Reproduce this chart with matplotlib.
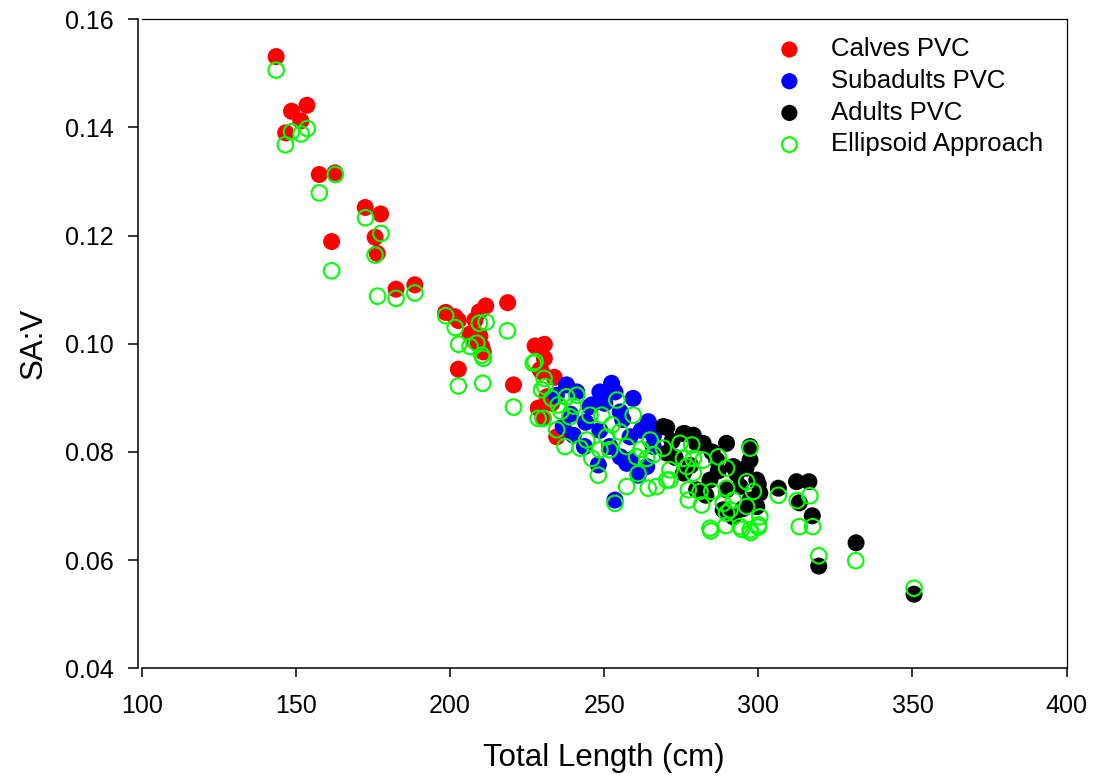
"""
SA:V vs total length - PVC measurements by age class and the ellipsoid approach
"""

import matplotlib
matplotlib.use("Agg")
import matplotlib.pyplot as plt

# -----------------------------
# DATA
# -----------------------------

calves_len = [143.6, 146.7, 148.6, 151.6, 153.6, 157.6, 161.6, 162.7, 172.5, 175.7,
              176.4, 177.5, 182.5, 188.6, 198.6, 201.6, 202.7, 202.7, 206.5, 208.1,
              208.1, 209.5, 209.7, 210.3, 210.8, 211.6, 218.7, 220.6, 227.6, 228.6,
              229.2, 229.7, 230.6, 230.6, 231.4, 233.5, 233.8, 234.6, 230.2, 233.0]
calves_sav = [0.1531, 0.1390, 0.1430, 0.1412, 0.1441, 0.1313, 0.1189, 0.1316, 0.1252, 0.1197,
              0.1167, 0.1240, 0.1101, 0.1109, 0.1058, 0.1050, 0.1043, 0.0953, 0.1018, 0.1044,
              0.1004, 0.1059, 0.1014, 0.0995, 0.0985, 0.1070, 0.1076, 0.0924, 0.0996, 0.0881,
              0.0952, 0.0948, 0.0999, 0.0973, 0.0902, 0.0902, 0.0938, 0.0828, 0.0862, 0.0890]

subadults_len = [237.8, 241.1, 248.6, 252.4, 253.5, 259.4, 246.0, 250.2, 255.2, 264.3,
                 236.7, 240.0, 248.6, 258.4, 265.9, 257.3, 261.0, 248.1, 253.5, 243.6,
                 251.8, 263.8, 255.2, 258.4, 245.4, 234.5, 239.0, 244.0, 256.0, 262.0,
                 266.0]
subadults_sav = [0.0924, 0.0911, 0.0911, 0.0927, 0.0911, 0.0899, 0.0887, 0.0890, 0.0874, 0.0856,
                 0.0847, 0.0831, 0.0840, 0.0828, 0.0810, 0.0779, 0.0757, 0.0776, 0.0711, 0.0810,
                 0.0810, 0.0773, 0.0791, 0.0785, 0.0884, 0.0905, 0.0870, 0.0855, 0.0860, 0.0840,
                 0.0830]

adults_len = [269.2, 270.3, 275.7, 276.2, 278.9, 280.0, 282.1, 289.7, 297.3, 297.3,
              286.5, 270.3, 275.7, 291.9, 284.3, 299.5, 289.7, 297.3, 288.6, 299.5,
              280.0, 294.1, 300.5, 291.9, 306.5, 312.4, 316.4, 313.3, 317.5, 331.7,
              319.6, 350.5, 273.0, 278.0, 285.0, 293.0, 296.0, 300.0, 283.0, 295.0,
              272.0, 287.0]
adults_sav = [0.0847, 0.0845, 0.0834, 0.0834, 0.0831, 0.0816, 0.0816, 0.0816, 0.0810, 0.0785,
              0.0785, 0.0798, 0.0761, 0.0773, 0.0748, 0.0748, 0.0730, 0.0711, 0.0693, 0.0699,
              0.0730, 0.0736, 0.0724, 0.0680, 0.0733, 0.0745, 0.0745, 0.0706, 0.0682, 0.0632,
              0.0589, 0.0537, 0.0790, 0.0775, 0.0800, 0.0760, 0.0770, 0.0740, 0.0720, 0.0695,
              0.0820, 0.0765]

ellipsoid_len = [143.6, 146.6, 148.6, 151.7, 153.7, 157.6, 161.6, 162.8, 172.6, 175.7,
                 176.5, 177.6, 182.5, 188.6, 198.6, 201.7, 202.7, 202.8, 206.5, 208.7,
                 209.5, 210.3, 210.6, 210.8, 211.7, 218.6, 220.6, 227.6, 228.6, 229.7,
                 230.5, 230.8, 233.0, 234.6, 235.1, 230.2, 227.0,
                 237.3, 237.8, 241.1, 238.9, 245.4, 249.2, 254.1, 259.4, 244.3, 242.2,
                 246.0, 248.1, 250.8, 255.1, 257.3, 260.5, 263.8, 257.3, 264.3, 253.5,
                 248.6, 251.8, 264.9, 270.3, 236.0, 240.0, 252.5, 262.0, 266.0, 261.0,
                 274.6, 278.4, 269.2, 297.3, 275.7, 278.9, 282.1, 287.0, 289.7, 276.8,
                 278.9, 271.3, 277.3, 281.1, 284.9, 289.7, 296.2, 298.4, 291.9, 288.6,
                 296.2, 300.5, 290.8, 277.3, 281.6, 284.3, 289.7, 294.1, 297.3, 300.0,
                 267.0, 271.3, 306.5, 312.6, 316.7, 313.3, 317.6, 319.6, 331.6, 350.5,
                 284.6, 289.5, 294.6, 297.5, 300.0]
ellipsoid_sav = [0.1506, 0.1368, 0.1392, 0.1388, 0.1398, 0.1279, 0.1135, 0.1313, 0.1233, 0.1164,
                 0.1088, 0.1204, 0.1084, 0.1094, 0.1052, 0.1030, 0.0922, 0.0999, 0.0995, 0.1001,
                 0.1038, 0.0979, 0.0927, 0.0973, 0.1040, 0.1024, 0.0883, 0.0967, 0.0862, 0.0915,
                 0.0936, 0.0921, 0.0899, 0.0841, 0.0887, 0.0862, 0.0964,
                 0.0810, 0.0902, 0.0905, 0.0865, 0.0868, 0.0868, 0.0896, 0.0868, 0.0822, 0.0807,
                 0.0788, 0.0757, 0.0828, 0.0837, 0.0810, 0.0791, 0.0788, 0.0736, 0.0733, 0.0705,
                 0.0804, 0.0804, 0.0822, 0.0748, 0.0875, 0.0885, 0.0850, 0.0805, 0.0795, 0.0760,
                 0.0816, 0.0813, 0.0807, 0.0807, 0.0788, 0.0788, 0.0785, 0.0791, 0.0770, 0.0773,
                 0.0761, 0.0748, 0.0730, 0.0727, 0.0727, 0.0733, 0.0745, 0.0727, 0.0711, 0.0705,
                 0.0699, 0.0680, 0.0693, 0.0711, 0.0702, 0.0659, 0.0687, 0.0662, 0.0656, 0.0665,
                 0.0736, 0.0767, 0.0720, 0.0710, 0.0719, 0.0662, 0.0662, 0.0608, 0.0599, 0.0548,
                 0.0654, 0.0664, 0.0657, 0.0651, 0.0661]

x_ticks = [100, 150, 200, 250, 300, 350, 400]
y_ticks = [0.04, 0.06, 0.08, 0.10, 0.12, 0.14, 0.16]

# -----------------------------
# PLOT
# -----------------------------

plt.rcParams["font.family"] = ["Liberation Sans", "DejaVu Sans"]

fig = plt.figure(figsize=(10.95, 7.8), dpi=100)
ax = fig.add_axes([0.1294, 0.1432, 0.8447, 0.8321])

ax.scatter(calves_len, calves_sav, s=150, color="#ff0000", edgecolors="none",
           label="Calves PVC", zorder=2)
ax.scatter(subadults_len, subadults_sav, s=150, color="#0000ff", edgecolors="none",
           label="Subadults PVC", zorder=2)
ax.scatter(adults_len, adults_sav, s=150, color="#000000", edgecolors="none",
           label="Adults PVC", zorder=2)
ax.scatter(ellipsoid_len, ellipsoid_sav, s=125, facecolors="none", edgecolors="#00ff00",
           linewidths=1.5, label="Ellipsoid Approach", zorder=3)

ax.set_xlim(100, 400)
ax.set_ylim(0.04, 0.16)
ax.set_xticks(x_ticks)
ax.set_yticks(y_ticks)
ax.set_xticklabels([str(t) for t in x_ticks])
ax.set_yticklabels([f"{t:.2f}" for t in y_ticks])

ax.spines["left"].set_position(("outward", 3))
for side in ["left", "bottom"]:
    ax.spines[side].set_linewidth(1.1)
for side in ["top", "right"]:
    ax.spines[side].set_linewidth(0.9)

ax.tick_params(axis="x", direction="out", length=6.5, width=1.1, pad=12, labelsize=18)
ax.tick_params(axis="y", direction="out", length=7, width=1.1, pad=10, labelsize=18)

ax.set_xlabel("Total Length (cm)", fontsize=22.5, labelpad=18)
ax.set_ylabel("SA:V", fontsize=22.5, labelpad=12)

ax.legend(loc="upper right", bbox_to_anchor=(0.9935, 1.0), frameon=False,
          fontsize=18.5, handletextpad=0.6, labelspacing=0.3, markerscale=0.95,
          borderaxespad=0.3)

fig.savefig("out.png", dpi=100)
